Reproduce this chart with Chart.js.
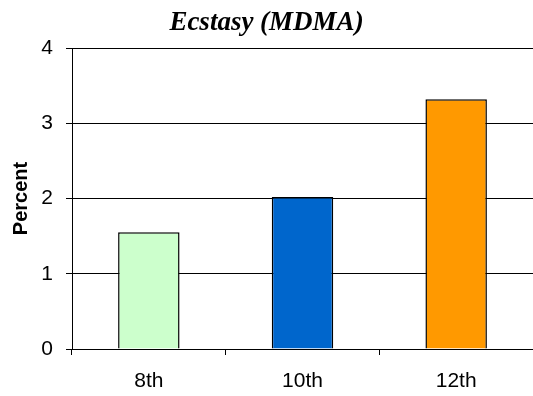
<!DOCTYPE html>
<html><head><meta charset="utf-8">
<script src="https://cdn.jsdelivr.net/npm/chart.js@4/dist/chart.umd.min.js"></script>
<style>html,body{margin:0;padding:0;background:#fff}#wrap{width:533px;height:396px}</style>
</head><body><div id="wrap"><canvas id="c"></canvas></div>
<script>
const categories = ["8th", "10th", "12th"];
const percentValues = [1.55, 2.02, 3.32];
const barColors = ["#CCFFCC", "#0066CC", "#FF9900"];
const yTicks = [0, 1, 2, 3, 4];

new Chart(document.getElementById('c'), {
  type: 'bar',
  data: {
    labels: categories,
    datasets: [{
      data: percentValues,
      backgroundColor: barColors,
      borderColor: '#000',
      borderWidth: 1.5,
      categoryPercentage: 0.4,
      barPercentage: 1.0
    }]
  },
  options: {
    responsive: true,
    maintainAspectRatio: false,
    animation: false,
    devicePixelRatio: 1,
    layout: { padding: { left: 0, right: 0, top: 0, bottom: 0 } },
    plugins: {
      legend: { display: false },
      tooltip: { enabled: false },
      title: {
        display: true,
        text: 'Ecstasy (MDMA)',
        color: '#000',
        font: { family: '"Liberation Serif", "Times New Roman", serif', size: 27, weight: 'bold', style: 'italic', lineHeight: 1.2 },
        padding: { top: 7, bottom: 8.6 }
      }
    },
    scales: {
      x: {
        grid: { display: true, offset: true, drawOnChartArea: false, drawTicks: true, tickLength: 6, color: '#000', lineWidth: 1 },
        border: { display: true, color: '#000', width: 1 },
        ticks: { color: '#000', font: { family: '"Liberation Sans", Arial, sans-serif', size: 21 }, padding: 14 },
        afterFit: (s) => { s.height = 47; }
      },
      y: {
        min: 0, max: 4,
        afterBuildTicks: (s) => { s.ticks = yTicks.map(v => ({ value: v })); },
        grid: { color: '#000', lineWidth: 1, drawTicks: true, tickLength: 6 },
        border: { display: true, color: '#000', width: 1 },
        ticks: { color: '#000', font: { family: '"Liberation Sans", Arial, sans-serif', size: 21 }, padding: 13 },
        title: { display: true, text: 'Percent', color: '#000', font: { family: '"Liberation Sans", Arial, sans-serif', size: 20, weight: 'bold' }, padding: { top: 9, bottom: 0 } },
        afterFit: (s) => { s.width = 72; }
      }
    }
  }
});
</script>
</body></html>
